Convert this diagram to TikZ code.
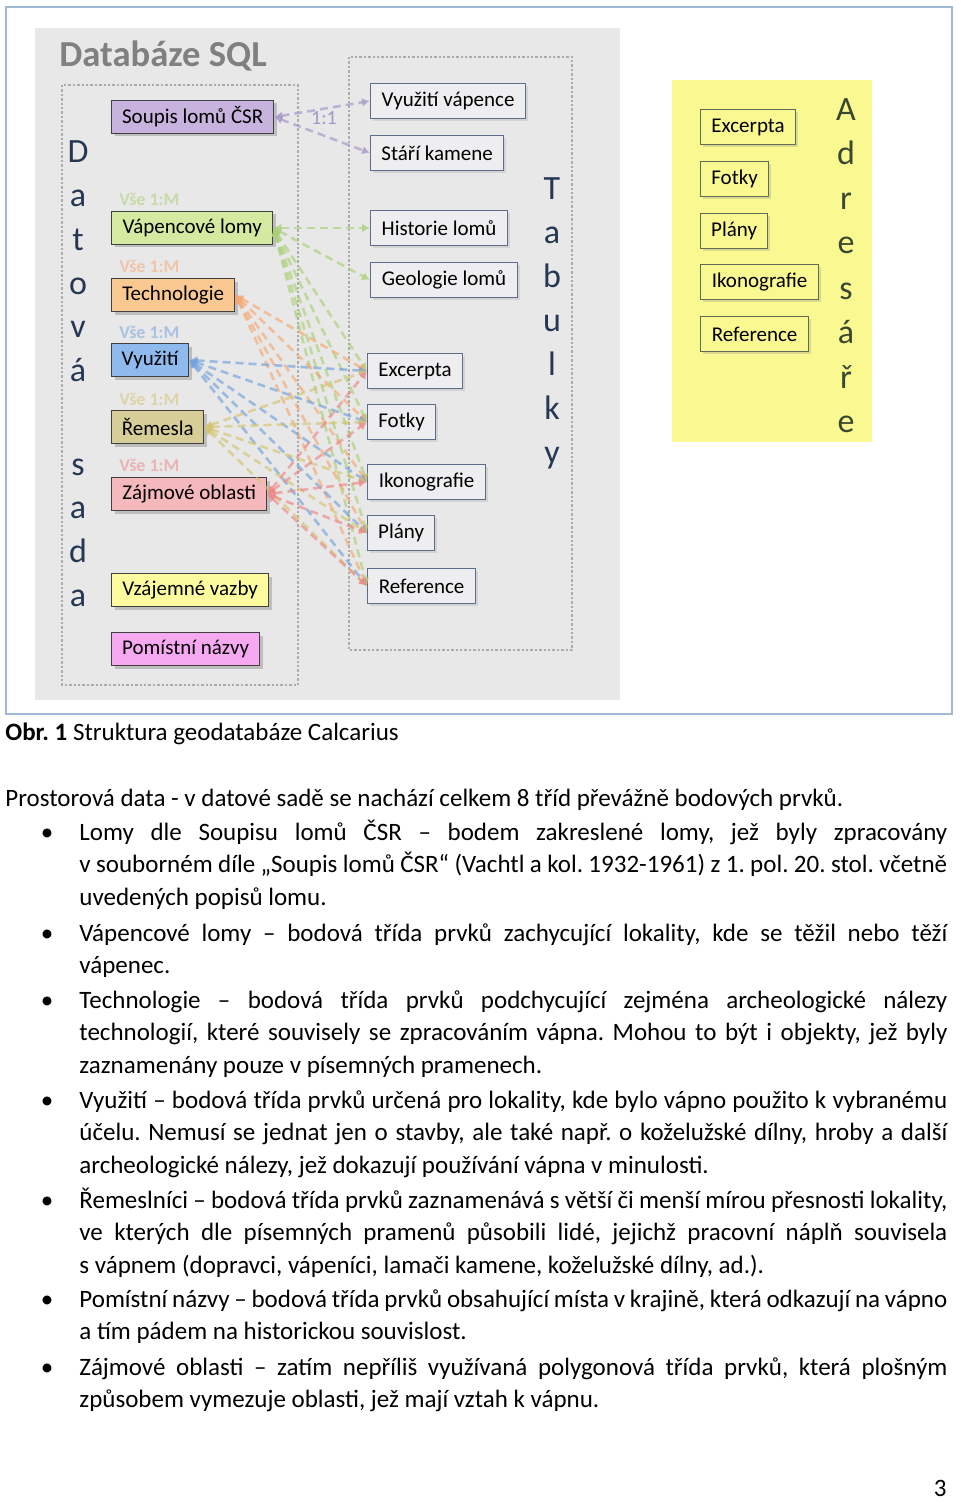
\documentclass[tikz,border=0pt]{standalone}
\usepackage{fontspec}
\setmainfont{Carlito}
\usepackage{tikz}
\usetikzlibrary{arrows.meta,shadows}
\frenchspacing
\newlength\px \setlength\px{0.5pt}
\definecolor{panelgray}{RGB}{232,232,232}
\definecolor{framecol}{RGB}{160,185,212}
\definecolor{titlegray}{RGB}{128,128,128}
\definecolor{datnavy}{RGB}{38,55,84}
\definecolor{adrgreen}{RGB}{58,72,48}
\definecolor{adryellow}{RGB}{250,248,145}
\definecolor{tabborder}{RGB}{92,110,138}
\definecolor{tabfill}{RGB}{238,238,240}
\definecolor{soupisfill}{RGB}{200,178,222}
\definecolor{vapfill}{RGB}{212,234,160}
\definecolor{techfill}{RGB}{250,200,145}
\definecolor{vyuzfill}{RGB}{143,186,238}
\definecolor{remfill}{RGB}{214,206,150}
\definecolor{zajfill}{RGB}{245,184,188}
\definecolor{vazbyfill}{RGB}{252,252,158}
\definecolor{pomfill}{RGB}{246,168,240}
\definecolor{relpurple}{RGB}{165,150,200}
\definecolor{relgreen}{RGB}{170,208,118}
\definecolor{relorange}{RGB}{245,168,115}
\definecolor{relblue}{RGB}{115,162,220}
\definecolor{relkhaki}{RGB}{212,196,112}
\definecolor{relpink}{RGB}{238,135,135}
\tikzset{
  dbox/.style={draw=black!75, line width=0.7pt, minimum height=33\px, inner sep=0pt,
               anchor=west, font=\fontsize{10.5}{12}\selectfont,
               drop shadow={shadow xshift=1.5pt, shadow yshift=-1.5pt, opacity=0.4}},
  tbox/.style={draw=tabborder, fill=tabfill, line width=0.6pt, minimum height=35\px,
               inner sep=0pt, anchor=west, font=\fontsize{10.5}{12}\selectfont,
               drop shadow={shadow xshift=1pt, shadow yshift=-1.2pt, opacity=0.2}},
  abox/.style={draw=adrgreen!80, fill=adryellow, line width=0.6pt, minimum height=35\px,
               inner sep=0pt, anchor=west, font=\fontsize{10.5}{12}\selectfont,
               drop shadow={shadow xshift=1pt, shadow yshift=-1.2pt, opacity=0.25}},
  vlet/.style={anchor=base, inner sep=0pt, font=\fontsize{17}{17}\selectfont},
  card/.style={anchor=west, inner sep=0pt, font=\fontsize{9}{10}\selectfont\bfseries},
  rel/.style={dash pattern=on 4pt off 2.5pt, line width=1.3pt, opacity=0.65,
              {Latex[length=4pt,width=4.5pt]}-{Latex[length=4pt,width=4.5pt]}},
  dotbox/.style={draw=gray!65, densely dotted, line width=1.2pt},
  bodytext/.style={anchor=base west, inner sep=0pt, text width=868\px, align=justify,
                   font=\fontsize{12.5}{16.35}\selectfont},
  plain/.style={anchor=base west, inner sep=0pt, font=\fontsize{12.5}{16.35}\selectfont},
  bul/.style={anchor=base, inner sep=0pt, font=\fontsize{12.5}{16.35}\selectfont},
}
\begin{document}
\begin{tikzpicture}[x=0.5pt,y=-0.5pt,line cap=butt]
  \useasboundingbox (0,0) rectangle (960,1503);
  \fill[white] (0,0) rectangle (960,1503);
  % ---- ramecek obrazku ----
  \draw[framecol, line width=0.6pt] (6,7) rectangle (952,714);
  \fill[panelgray] (35,28) rectangle (620,700);
  \node[anchor=west, inner sep=0pt, text=titlegray, font=\fontsize{18.3}{20}\selectfont\bfseries]
    (title) at (59,56) {Databáze SQL};
  \draw[dotbox] (62,85) rectangle (298,685);
  \draw[dotbox] (349,57) rectangle (572,650);
  % ---- adresare ----
  \fill[adryellow] (672,80) rectangle (872,442);
  % ---- datova sada ----
  \node[dbox, fill=soupisfill, minimum width=162\px] (soupis)  at (111,117) {Soupis lomů ČSR};
  \node[dbox, fill=vapfill,    minimum width=161\px] (vaplomy) at (111,228) {Vápencové lomy};
  \node[dbox, fill=techfill,   minimum width=123\px] (tech)    at (111,295) {Technologie};
  \node[dbox, fill=vyuzfill,   minimum width=77\px]  (vyuz)    at (111,360) {Využití};
  \node[dbox, fill=remfill,    minimum width=92\px]  (rem)     at (111,427) {Řemesla};
  \node[dbox, fill=zajfill,    minimum width=155\px] (zaj)     at (111,494) {Zájmové oblasti};
  \node[dbox, fill=vazbyfill,  minimum width=157\px] (vazby)   at (111,590) {Vzájemné vazby};
  \node[dbox, fill=pomfill,    minimum width=148\px] (pomist)  at (111,649) {Pomístní názvy};
  \foreach \c/\y in {relgreen/199,relorange/266,relblue/332,relkhaki/399,relpink/465}
    \node[card, text=\c!55!panelgray] at (119,\y) {Vše 1:M};
  % ---- tabulky ----
  \node[tbox, minimum width=155\px] (tvyuz)  at (370,101) {Využití vápence};
  \node[tbox, minimum width=133\px] (tstari) at (370,153) {Stáří kamene};
  \node[tbox, minimum width=137\px] (thist)  at (370,228) {Historie lomů};
  \node[tbox, minimum width=147\px] (tgeol)  at (370,280) {Geologie lomů};
  \node[tbox, minimum width=95\px]  (texc)   at (367,371) {Excerpta};
  \node[tbox, minimum width=68\px]  (tfot)   at (367,422) {Fotky};
  \node[tbox, minimum width=118\px] (tiko)   at (367,482) {Ikonografie};
  \node[tbox, minimum width=67\px]  (tplan)  at (367,533) {Plány};
  \node[tbox, minimum width=108\px] (tref)   at (367,586) {Reference};
  % ---- adresare, krabicky ----
  \node[abox, minimum width=95\px]  (aexc)  at (700,127) {Excerpta};
  \node[abox, minimum width=68\px]  (afot)  at (700,179) {Fotky};
  \node[abox, minimum width=67\px]  (aplan) at (700,231) {Plány};
  \node[abox, minimum width=118\px] (aiko)  at (700,282) {Ikonografie};
  \node[abox, minimum width=108\px] (aref)  at (700,334) {Reference};
  % ---- svisle popisky ----
  \foreach \l/\y in {D/163,a/206,t/250,o/294,v/337,á/381,s/475,a/518,d/562,a/606}
    \node[vlet, text=datnavy] at (78,\y) {\l};
  \foreach \l/\y in {T/199,a/243,b/287,u/331,l/375,k/419,y/463}
    \node[vlet, text=datnavy] at (552,\y) {\l};
  \foreach \l/\y in {A/121,d/165,r/210,e/254,s/299,á/343,ř/388,e/432}
    \node[vlet, text=adrgreen] at (846,\y) {\l};
  % ---- vazby ----
  \draw[rel, relpurple] (soupis.east) -- (tvyuz.west);
  \draw[rel, relpurple] (soupis.east) -- (tstari.west);
  \node[inner sep=0pt, text=relpurple, font=\fontsize{10}{11}\selectfont] (jednaku) at (324,118) {1:1};
  \draw[rel, relgreen] (vaplomy.east) -- (thist.west);
  \draw[rel, relgreen] (vaplomy.east) -- (tgeol.west);
  \foreach \s/\c in {vaplomy/relgreen,tech/relorange,vyuz/relblue,rem/relkhaki,zaj/relpink}
    \foreach \t in {texc,tfot,tiko,tplan,tref}
      \draw[rel, \c] (\s.east) -- (\t.west);
  % ---- text pod obrazkem ----
  \node[plain] (popis) at (5,740) {\textbf{Obr. 1} Struktura geodatabáze Calcarius};
  \node[plain] (uvod) at (5,806) {Prostorová data - v datové sadě se nachází celkem 8 tříd převážně bodových prvků.};
  \foreach \y in {840,941,1008,1108,1208,1307,1375}
    \node[bul] at (47,\y) {\textbullet};
  \node[bodytext] (b1) at (79,840) {Lomy dle Soupisu lomů ČSR – bodem zakreslené lomy, jež byly zpracovány\linebreak
    v souborném díle „Soupis lomů ČSR“ (Vachtl a kol. 1932-1961) z 1. pol. 20. stol. včetně\linebreak
    uvedených popisů lomu.};
  \node[bodytext] (b2) at (79,941) {Vápencové lomy – bodová třída prvků zachycující lokality, kde se těžil nebo těží\linebreak
    vápenec.};
  \node[bodytext] (b3) at (79,1008) {Technologie – bodová třída prvků podchycující zejména archeologické nálezy\linebreak
    technologií, které souvisely se zpracováním vápna. Mohou to být i objekty, jež byly\linebreak
    zaznamenány pouze v písemných pramenech.};
  \node[bodytext] (b4) at (79,1108) {Využití – bodová třída prvků určená pro lokality, kde bylo vápno použito k vybranému\linebreak
    účelu. Nemusí se jednat jen o stavby, ale také např. o koželužské dílny, hroby a další\linebreak
    archeologické nálezy, jež dokazují používání vápna v minulosti.};
  \node[bodytext] (b5) at (79,1208) {Řemeslníci – bodová třída prvků zaznamenává s větší či menší mírou přesnosti lokality,\linebreak
    ve kterých dle písemných pramenů působili lidé, jejichž pracovní náplň souvisela\linebreak
    s vápnem (dopravci, vápeníci, lamači kamene, koželužské dílny, ad.).};
  \node[bodytext] (b6) at (79,1307) {Pomístní názvy – bodová třída prvků obsahující místa v krajině, která odkazují na vápno\linebreak
    a tím pádem na historickou souvislost.};
  \node[bodytext] (b7) at (79,1375) {Zájmové oblasti – zatím nepříliš využívaná polygonová třída prvků, která plošným\linebreak
    způsobem vymezuje oblasti, jež mají vztah k vápnu.};
  \node[anchor=base east, inner sep=0pt, font=\fontsize{12.5}{16.35}\selectfont] (strana) at (947,1496) {3};
\end{tikzpicture}
\end{document}
